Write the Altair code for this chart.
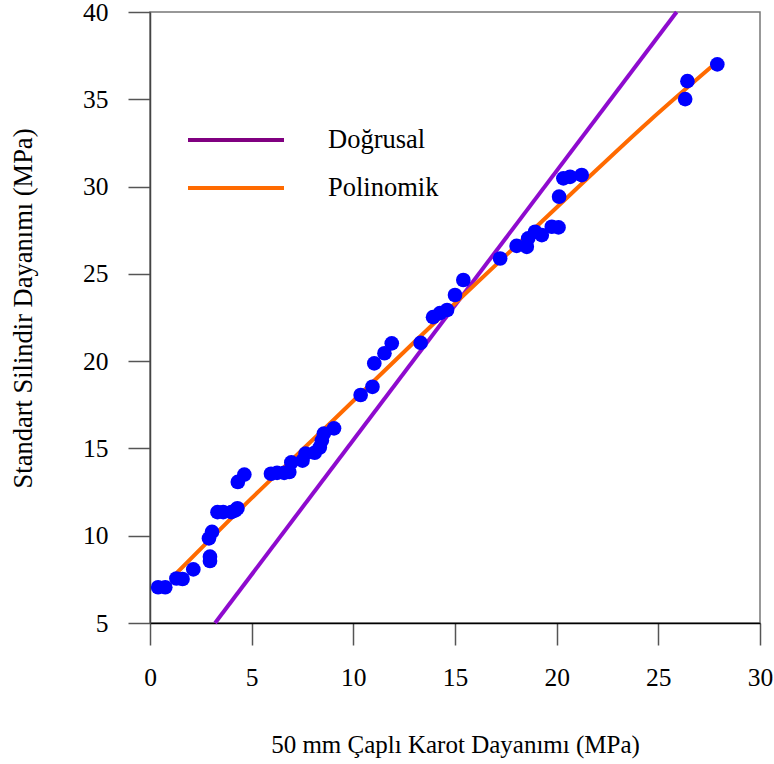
import altair as alt
import pandas as pd

# 50 mm core strength (x) vs. standard cylinder strength (y), MPa
karot_50mm = [0.40, 0.75, 1.30, 1.60, 2.13, 2.95, 2.95, 2.90, 3.05,
              3.32, 3.60, 4.00, 4.20, 4.30, 4.32, 4.64,
              5.95, 6.25, 6.60, 6.85, 6.95, 7.50, 7.65, 8.10, 8.35, 8.45, 8.55, 9.05,
              10.36, 10.94, 11.03, 11.53, 11.89, 13.31,
              13.92, 14.26, 14.61, 15.00, 15.41, 17.22,
              18.03, 18.53, 18.60, 18.94, 19.27, 19.76, 20.09, 20.12, 20.33, 20.66, 21.23,
              26.32, 26.43, 27.90]
silindir = [7.05, 7.05, 7.55, 7.52, 8.07, 8.55, 8.80, 9.85, 10.22,
            11.35, 11.35, 11.35, 11.45, 11.57, 13.08, 13.50,
            13.55, 13.60, 13.60, 13.65, 14.20, 14.30, 14.70, 14.75, 15.05, 15.45, 15.85, 16.15,
            18.06, 18.53, 19.87, 20.45, 21.02, 21.05,
            22.52, 22.75, 22.93, 23.79, 24.65, 25.88,
            26.60, 26.55, 27.03, 27.41, 27.22, 27.70, 27.66, 29.42, 30.47, 30.56, 30.66,
            35.01, 36.04, 37.00]

# Linear relation (end points)
dogrusal_x = [3.2, 25.9]
dogrusal_y = [5.0, 40.0]

# Polynomial relation (points along the curve)
polinom_x = [1.3, 5.0, 9.0, 13.0, 17.0, 21.0, 24.6, 27.7]
polinom_y = [7.85, 12.15, 16.6, 21.1, 25.5, 29.9, 33.8, 36.95]

seri_adlari = ["Doğrusal", "Polinomik"]

FONT = "Liberation Serif"
MOR = "#8E0BCE"
MOR_LEJANT = "#800080"
TURUNCU = "#FF6A00"
MAVI = "#0000FF"

noktalar = pd.DataFrame({"x": karot_50mm, "y": silindir})
dogrusal = pd.DataFrame({"x": dogrusal_x, "y": dogrusal_y})
polinom = pd.DataFrame({"x": polinom_x, "y": polinom_y})

x_scale = alt.Scale(domain=[0, 30], nice=False, zero=False)
y_scale = alt.Scale(domain=[5, 40], nice=False, zero=False)

x_axis = alt.Axis(
    values=[0, 5, 10, 15, 20, 25, 30], grid=False,
    title="50 mm Çaplı Karot Dayanımı (MPa)",
    titleFont=FONT, titleFontSize=25, titleFontWeight="normal", titleColor="black",
    titleY=129, titleBaseline="alphabetic",
    labelFont=FONT, labelFontSize=25.5, labelColor="black", labelPadding=20,
    tickSize=22, tickColor="#555", tickWidth=1.5,
    domainColor="black", domainWidth=1.5, labelFlush=False,
)
y_axis = alt.Axis(
    values=[5, 10, 15, 20, 25, 30, 35, 40], grid=False,
    title="Standart Silindir Dayanımı (MPa)",
    titleFont=FONT, titleFontSize=26.5, titleFontWeight="normal", titleColor="black",
    titleAngle=-90, titleX=-119, titleY=296, titleAlign="center", titleBaseline="alphabetic",
    labelFont=FONT, labelFontSize=25.5, labelColor="black", labelPadding=20,
    tickSize=22, tickColor="#555", tickWidth=1.5,
    domainColor="#444", domainWidth=1.5, labelFlush=False,
)

x_enc = alt.X("x:Q", scale=x_scale, axis=x_axis)
y_enc = alt.Y("y:Q", scale=y_scale, axis=y_axis)

cizgi_dogrusal = alt.Chart(dogrusal).mark_line(color=MOR, strokeWidth=4).encode(x=x_enc, y=y_enc)
cizgi_polinom = alt.Chart(polinom).mark_line(color=TURUNCU, strokeWidth=4, interpolate="monotone").encode(x=x_enc, y=y_enc)
nokta = alt.Chart(noktalar).mark_circle(color=MAVI, size=215, opacity=1).encode(x=x_enc, y=y_enc)

# Legend drawn by hand
lejant = []
for ad, renk, py in zip(seri_adlari, [MOR_LEJANT, TURUNCU], [128, 176]):
    lejant.append(
        alt.Chart(pd.DataFrame({"ad": [ad]})).mark_rule(color=renk, strokeWidth=4).encode(
            x=alt.value(38), x2=alt.value(134), y=alt.value(py))
    )
    lejant.append(
        alt.Chart(pd.DataFrame({"ad": [ad]})).mark_text(
            font=FONT, fontSize=26.5, align="left", baseline="middle", color="black").encode(
            x=alt.value(178), y=alt.value(py), text="ad:N")
    )

chart = alt.layer(cizgi_dogrusal, cizgi_polinom, nokta, *lejant).properties(
    width=610, height=611,
    autosize=alt.AutoSizeParams(type="none"),
    padding={"left": 150, "top": 12, "right": 14, "bottom": 141},
    background="white",
).configure_view(stroke="#777", strokeWidth=1.5)

chart.save("out.html", embed_options={"renderer": "svg", "actions": False})
